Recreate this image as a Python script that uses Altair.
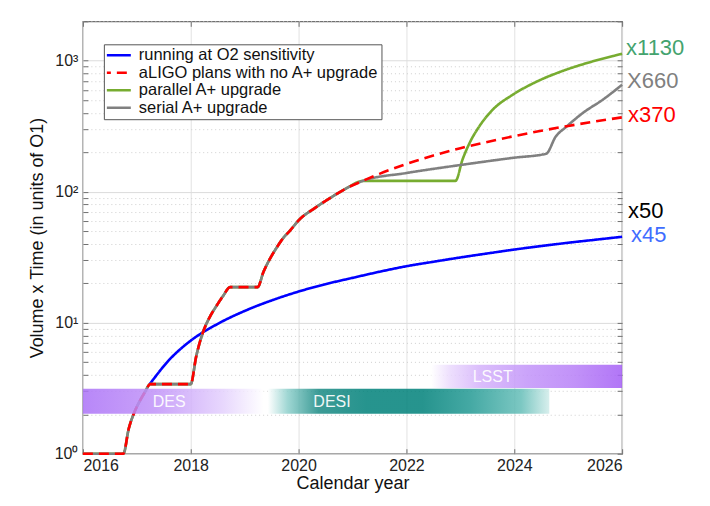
import altair as alt
import pandas as pd

FONT = "Liberation Sans"

# ---------------- data ----------------
series_names = [
    "running at O2 sensitivity",
    "aLIGO plans with no A+ upgrade",
    "parallel A+ upgrade",
    "serial A+ upgrade",
]
series_colors = ["#0000ff", "#ff0000", "#77ac30", "#808080"]
series_dash = [[1, 0], [10, 6], [1, 0], [1, 0]]

# shared early path (aLIGO plans, parallel, serial)
common_t = [2016.0, 2016.75, 2016.85, 2016.95, 2017.05, 2017.15, 2017.25,
            2018.0, 2018.1, 2018.22, 2018.35, 2018.47, 2018.6, 2018.73,
            2019.24, 2019.35, 2019.46, 2019.58, 2019.7, 2019.85, 2020.01,
            2020.3, 2020.63, 2020.9, 2021.19]
common_v = [1.0, 1.0, 1.55, 2.05, 2.5, 2.95, 3.4,
            3.4, 5.5, 8.3, 11.0, 13.3, 16.0, 18.7,
            18.7, 24.5, 30.3, 36.7, 43.5, 51.0, 61.0,
            75.0, 92.0, 107.0, 121.0]

o2_t = [2017.24, 2017.6, 2018.0, 2018.5, 2019.0, 2019.5, 2020.0, 2020.5,
        2021.0, 2021.5, 2022.0, 2022.5, 2023.0, 2023.5, 2024.0, 2024.5,
        2025.0, 2025.5, 2026.0]
o2_v = [3.4, 5.2, 7.3, 9.8, 12.3, 14.8, 17.3, 19.7,
        22.0, 24.5, 27.0, 29.2, 31.5, 33.8, 36.2, 38.5,
        40.8, 43.0, 45.3]

aligo_t = [2021.5, 2022.0, 2022.5, 2023.0, 2023.5, 2024.0, 2024.5, 2025.0, 2025.5, 2026.0]
aligo_v = [137, 163, 189, 215, 240, 266, 292, 318, 344, 370]

parallel_t = [2022.91, 2023.04, 2023.17, 2023.35, 2023.6, 2023.97, 2024.4,
              2024.96, 2025.45, 2026.0]
parallel_v = [121, 176, 235, 315, 423, 550, 688, 854, 988, 1130]

serial_t = [2022.0, 2023.0, 2024.0, 2024.59, 2024.77, 2024.96, 2025.27, 2025.64, 2026.0]
serial_v = [139, 160, 182, 195, 264, 312, 399, 504, 656]

# surveys (bands)
survey_names = ["DES", "DESI", "LSST"]
survey_start = [2016.0, 2019.43, 2022.46]
survey_end = [2019.35, 2024.65, 2026.0]
survey_low = [2.02, 2.02, 3.17]
survey_high = [3.13, 3.13, 4.78]
survey_label_t = [2017.6, 2020.62, 2023.6]
survey_label_v = [2.5, 2.5, 3.88]
survey_stops = [
    [(0.0, "#ab72f7"), (0.4, "#c092f8"), (0.78, "#e4d1fd"), (1.0, "#ffffff")],
    [(0.0, "#ffffff"), (0.07, "#8fd0cc"), (0.18, "#1a8a84"), (0.35, "#00817a"),
     (0.55, "#00817a"), (0.72, "#249a94"), (0.9, "#65beb8"), (1.0, "#d1ecea")],
    [(0.0, "#ffffff"), (0.1, "#ead9fd"), (0.25, "#d5b3fb"), (0.5, "#c294f9"),
     (0.75, "#b77ff7"), (1.0, "#a45ef5")],
]

# end-of-line annotations
annot_text = ["x1130", "X660", "x370", "x50", "x45"]
annot_value = [1130, 660, 370, 50, 45]
annot_color = ["#44a36e", "#808080", "#ff0000", "#000000", "#3f6dff"]
annot_dx = [4, 5, 6, 6, 9]
annot_dy = [-6, -3, -2, -20, -2]

x_ticks = [2016, 2018, 2020, 2022, 2024, 2026]
y_ticks = [m * 10 ** k for k in range(3) for m in range(1, 10)] + [1000, 2000]

# ---------------- tables ----------------
rows = []
def add(name, ts, vs):
    for t, v in zip(ts, vs):
        rows.append({"series": name, "t": t, "v": v})

# drawing order: blue, green, gray, red (red dashes on top)
add(series_names[0], o2_t, o2_v)
add(series_names[2], common_t + parallel_t, common_v + parallel_v)
add(series_names[3], common_t + serial_t, common_v + serial_v)
add(series_names[1], common_t + aligo_t, common_v + aligo_v)
lines_df = pd.DataFrame(rows)

bands_df = pd.DataFrame({
    "survey": survey_names, "start": survey_start, "end": survey_end,
    "low": survey_low, "high": survey_high,
    "lt": survey_label_t, "lv": survey_label_v,
})

xscale = alt.Scale(domain=[2016, 2026], nice=False, zero=False)
yscale = alt.Scale(type="log", domain=[1, 2000], nice=False)

FRAME = "#707070"

main_x_axis = alt.Axis(
    orient="bottom", values=x_ticks, format="d", grid=True, gridColor="#e2e2e2",
    ticks=False, domain=False, labelFontSize=16, labelFont=FONT, labelColor="#222222",
    labelPadding=4, title="Calendar year", titleFont=FONT, titleFontSize=18,
    titleFontWeight="normal", titleColor="#111111", titlePadding=1,
)
main_y_axis = alt.Axis(
    orient="left", values=y_ticks, grid=True,
    gridColor={"condition": {"test": "indexof([1,10,100,1000], datum.value) >= 0",
                             "value": "#dcdcdc"}, "value": "#cfcfcf"},
    gridDash={"condition": {"test": "indexof([1,10,100,1000], datum.value) < 0",
                            "value": [1, 3]}, "value": []},
    ticks=False, domain=False,
    labelExpr="datum.value == 1 ? '10⁰' : datum.value == 10 ? '10¹' : "
              "datum.value == 100 ? '10²' : datum.value == 1000 ? '10³' : ''",
    labelFontSize=16, labelFont=FONT, labelColor="#222222", labelPadding=5,
    title="Volume x Time (in units of O1)", titleFont=FONT, titleFontSize=18,
    titleFontWeight="normal", titleColor="#111111", titlePadding=8,
)

def tick_axis(orient, values):
    return alt.Axis(orient=orient, values=values, offset=-5, ticks=True, tickSize=5,
                    tickColor=FRAME, tickWidth=1, labels=False, domain=False,
                    grid=False, title=None)

color_scale = alt.Scale(domain=series_names, range=series_colors)
dash_scale = alt.Scale(domain=series_names, range=series_dash)
legend = alt.Legend(
    orient="none", legendX=21, legendY=23, title=None, fillColor="white",
    strokeColor="#555555", padding=3, labelFont=FONT, labelFontSize=16.5,
    labelColor="#111111", labelOffset=14, labelLimit=500,
    symbolType="M-2,0H2", symbolSize=225, symbolStrokeWidth=2.5,
    rowPadding=0.5, symbolOffset=0, clipHeight=16,
)

lines = alt.Chart(lines_df).mark_line(strokeWidth=2.6, interpolate="monotone").encode(
    x=alt.X("t:Q", scale=xscale, axis=main_x_axis),
    y=alt.Y("v:Q", scale=yscale, axis=main_y_axis),
    color=alt.Color("series:N", scale=color_scale, legend=legend),
    strokeDash=alt.StrokeDash("series:N", scale=dash_scale, legend=legend),
    detail="series:N",
)

layers = [lines]
for i, name in enumerate(survey_names):
    grad = alt.Gradient(
        gradient="linear", x1=0, x2=1, y1=0, y2=0,
        stops=[alt.GradientStop(color=c, offset=o) for o, c in survey_stops[i]],
    )
    if i == 0:
        xa, ya = tick_axis("bottom", x_ticks), tick_axis("left", y_ticks)
    elif i == 1:
        xa, ya = tick_axis("top", x_ticks), tick_axis("right", y_ticks)
    else:
        xa, ya = None, None
    band = alt.Chart(bands_df).transform_filter(
        alt.datum.survey == name
    ).mark_rect(fill=grad, fillOpacity=0.85, strokeWidth=0).encode(
        x=alt.X("start:Q", scale=xscale, axis=xa),
        x2="end:Q",
        y=alt.Y("low:Q", scale=yscale, axis=ya),
        y2="high:Q",
    )
    layers.append(band)

band_labels = alt.Chart(bands_df).mark_text(
    font=FONT, fontSize=16, color="white", opacity=0.92, baseline="middle", align="center"
).encode(
    x=alt.X("lt:Q", scale=xscale, axis=None),
    y=alt.Y("lv:Q", scale=yscale, axis=None),
    text="survey:N",
)
layers.append(band_labels)

for lab, val, col, dx, dy in zip(annot_text, annot_value, annot_color, annot_dx, annot_dy):
    d = pd.DataFrame({"t": [2026.0], "v": [val], "lab": [lab]})
    layers.append(
        alt.Chart(d).mark_text(
            font=FONT, fontSize=22, color=col, align="left", baseline="middle",
            dx=dx, dy=dy,
        ).encode(
            x=alt.X("t:Q", scale=xscale, axis=None),
            y=alt.Y("v:Q", scale=yscale, axis=None),
            text="lab:N",
        )
    )

chart = alt.layer(*layers).resolve_axis(x="independent", y="independent").properties(
    width=540, height=433,
    padding={"left": 75, "top": 13, "right": 80, "bottom": 45},
    autosize=alt.AutoSizeParams(type="none"),
    background="white",
).configure_view(stroke=FRAME, strokeWidth=1.3)

chart.save("out.html", embed_options={"renderer": "svg", "actions": False})
